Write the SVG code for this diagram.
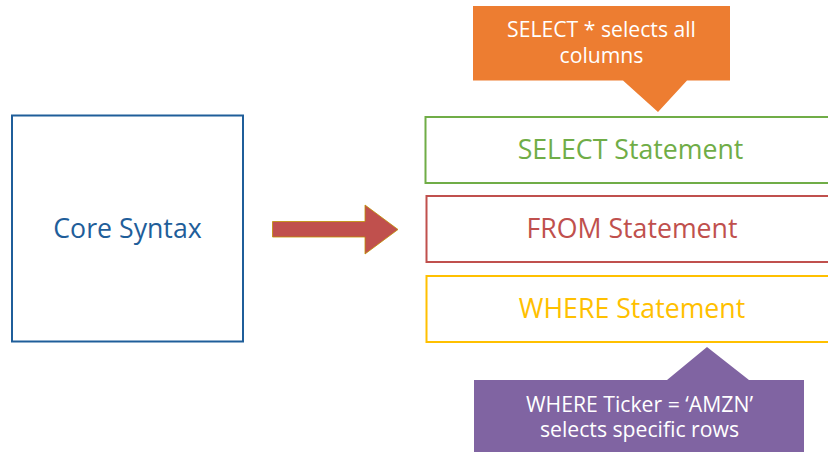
<svg xmlns="http://www.w3.org/2000/svg" width="828" height="452" viewBox="0 0 828 452">
<style>
text { font-family: "Open Sans", "Noto Sans", "DejaVu Sans", sans-serif; text-anchor: middle; }
.box { fill: #FFFFFF; stroke-width: 2; }
.lbl { font-size: 26.7px; }
.call { font-size: 21.2px; fill: #FFFFFF; }
</style>
<rect width="828" height="452" fill="#FFFFFF"/>
<g id="core">
<rect class="box" x="12" y="115.5" width="231" height="226" stroke="#1F5E9A"/>
<text class="lbl" x="127.5" y="238" fill="#1F5E9A">Core Syntax</text>
</g>
<g id="connectors">
<polygon points="272.5,221.5 365,221.5 365,205 398,229.5 365,254 365,237 272.5,237" fill="#C0504D" stroke="#BF9000" stroke-width="0.8"/>
</g>
<g id="select">
<rect class="box" x="425.5" y="117" width="410" height="66" stroke="#70AD47"/>
<text class="lbl" x="630.5" y="159" fill="#70AD47">SELECT Statement</text>
</g>
<g id="from">
<rect class="box" x="426.5" y="196" width="410" height="66" stroke="#C0504D"/>
<text class="lbl" x="632" y="238" fill="#C0504D">FROM Statement</text>
</g>
<g id="where">
<rect class="box" x="426.5" y="276" width="410" height="66" stroke="#FFC000"/>
<text class="lbl" x="632" y="318" fill="#FFC000">WHERE Statement</text>
</g>
<g id="select-note">
<path d="M473,6 H730 V80.5 H687 L658,112 L623,80.5 H473 Z" fill="#ED7D31"/>
<text class="call" x="601.5" y="37">SELECT * selects all</text>
<text class="call" x="601.5" y="63">columns</text>
</g>
<g id="where-note">
<path d="M474,380 H667 L707,347 L749,380 H804 V460 H474 Z" fill="#8064A2"/>
<text class="call" x="639.5" y="412">WHERE Ticker = ‘AMZN’</text>
<text class="call" x="639.5" y="437">selects specific rows</text>
</g>
</svg>
